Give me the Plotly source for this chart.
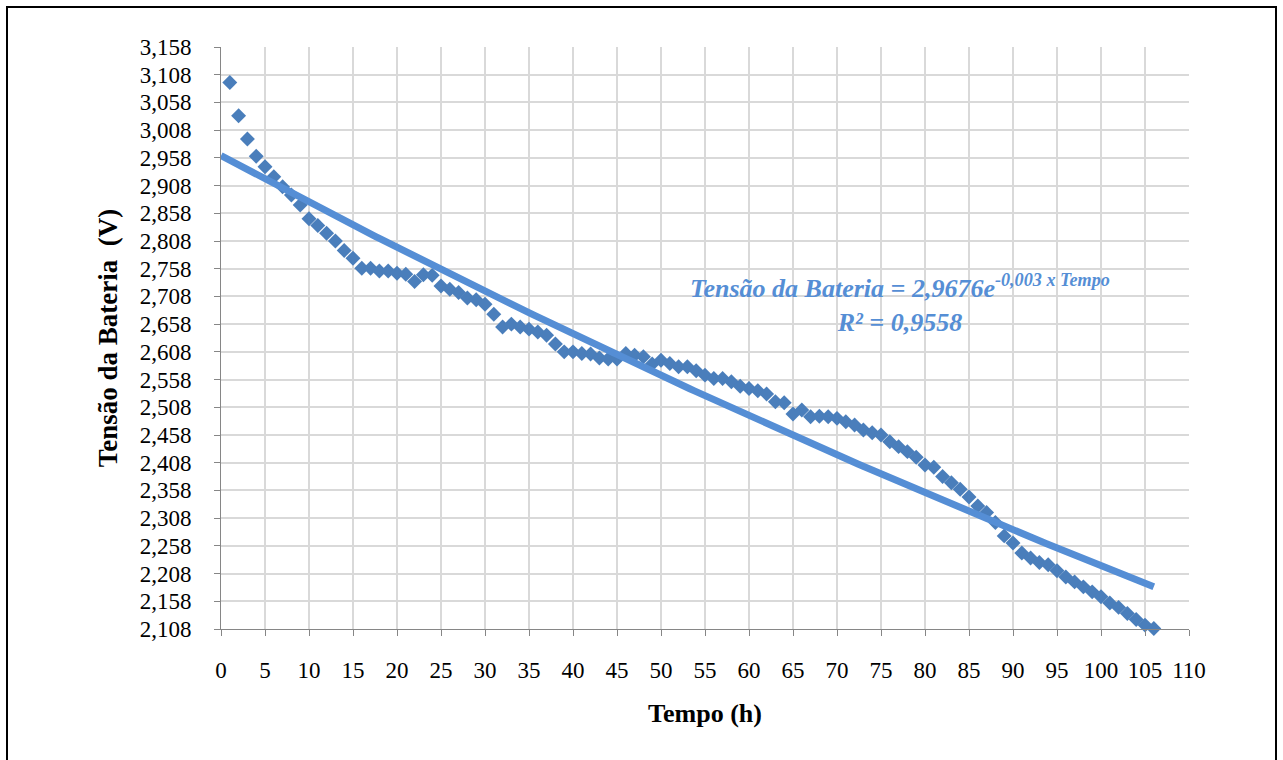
import numpy as np
import plotly.graph_objects as go

tempo_h = list(range(1, 107))
tensao_v = [
    3.094, 3.034, 2.992, 2.961, 2.942, 2.924, 2.906, 2.891, 2.873, 2.848,
    2.836, 2.822, 2.808, 2.791, 2.777, 2.759, 2.759, 2.754, 2.754, 2.750,
    2.748, 2.735, 2.747, 2.746, 2.727, 2.721, 2.715, 2.705, 2.702, 2.694,
    2.676, 2.653, 2.658, 2.653, 2.649, 2.644, 2.638, 2.622, 2.608, 2.608,
    2.605, 2.604, 2.597, 2.595, 2.595, 2.605, 2.602, 2.599, 2.586, 2.593,
    2.587, 2.581, 2.581, 2.574, 2.566, 2.560, 2.560, 2.554, 2.546, 2.542,
    2.538, 2.532, 2.518, 2.516, 2.496, 2.503, 2.491, 2.492, 2.491, 2.488,
    2.482, 2.476, 2.467, 2.462, 2.458, 2.446, 2.437, 2.428, 2.418, 2.404,
    2.400, 2.383, 2.372, 2.360, 2.346, 2.330, 2.318, 2.300, 2.276, 2.263,
    2.245, 2.236, 2.228, 2.224, 2.213, 2.202, 2.193, 2.184, 2.175, 2.166,
    2.155, 2.147, 2.136, 2.125, 2.115, 2.109,
]

y_ticks = [round(2.108 + 0.05 * k, 3) for k in range(22)]
y_tick_text = [f"{v:.3f}".replace(".", ",") for v in y_ticks]
x_ticks = list(range(0, 111, 5))

# Exponential trendline fitted to the data (least squares on ln V, like Excel)
k_fit, lnA = np.polyfit(np.array(tempo_h, float), np.log(np.array(tensao_v)), 1)
trend_x = np.linspace(0, 106, 200)
trend_y = np.exp(lnA) * np.exp(k_fit * trend_x)

MARKER_COLOR = "rgb(74,126,187)"
LINE_COLOR = "rgb(85,142,213)"
FONT = "Liberation Serif, Times New Roman, serif"

fig = go.Figure()
fig.add_trace(go.Scatter(
    x=tempo_h, y=tensao_v, mode="markers",
    marker=dict(symbol="diamond", size=11.5, color=MARKER_COLOR,
                line=dict(width=0)),
    showlegend=False, cliponaxis=False,
))
fig.add_trace(go.Scatter(
    x=trend_x, y=trend_y, mode="lines",
    line=dict(color=LINE_COLOR, width=7),
    showlegend=False, cliponaxis=False,
))

W, H = 1283, 760
L, R, T, B = 221, 94, 47, 131
pw, ph = W - L - R, H - T - B

def px_x(p):
    return (p - L) / pw

def px_y(p):
    return (H - B - p) / ph

fig.add_shape(type="rect", xref="paper", yref="paper",
              x0=px_x(7), x1=px_x(1276), y0=px_y(775), y1=px_y(7),
              line=dict(color="black", width=2), fillcolor="rgba(0,0,0,0)",
              layer="below")

fig.add_annotation(
    xref="x", yref="y", x=77.2, y=2.696, showarrow=False,
    text="<b><i>Tensão da Bateria = 2,9676e<sup>-0,003 x Tempo</sup></i></b><br><b><i>R² = 0,9558</i></b>",
    font=dict(family=FONT, size=26, color=LINE_COLOR), align="center",
)

fig.update_layout(
    width=W, height=H,
    margin=dict(l=L, r=R, t=T, b=B, autoexpand=False),
    paper_bgcolor="white", plot_bgcolor="white",
    font=dict(family=FONT, size=24, color="black"),
    xaxis=dict(
        range=[0, 110], tickvals=x_ticks, ticks="outside", ticklen=6,
        tickcolor="#868686", showline=True, linecolor="#868686", linewidth=1,
        showgrid=True, gridcolor="#D9D9D9", gridwidth=1.5, zeroline=False,
        tickfont=dict(family=FONT, size=23), ticklabelstandoff=14,
        title=dict(text="<b>Tempo (h)</b>", font=dict(family=FONT, size=26), standoff=22),
    ),
    yaxis=dict(
        range=[2.108, 3.158], tickvals=y_ticks, ticktext=y_tick_text,
        ticks="outside", ticklen=6, tickcolor="#868686",
        showline=True, linecolor="#868686", linewidth=1,
        showgrid=True, gridcolor="#D9D9D9", gridwidth=1.5, zeroline=False,
        tickfont=dict(family=FONT, size=23), ticklabelstandoff=18,
        title=dict(text="<b>Tensão da Bateria  (V)</b>", font=dict(family=FONT, size=27), standoff=14),
    ),
)

fig.write_html("out.html")
